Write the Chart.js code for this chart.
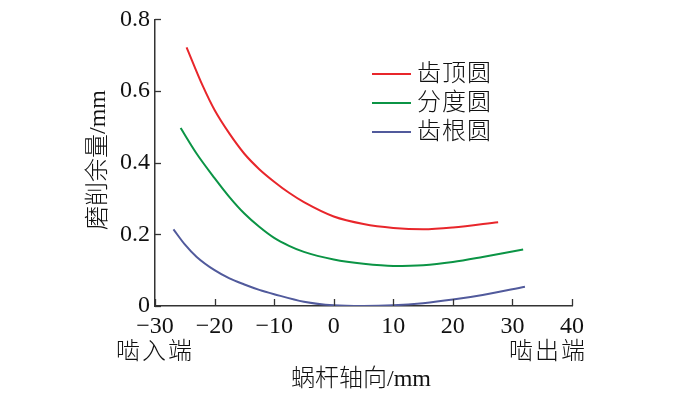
<!DOCTYPE html>
<html>
<head>
<meta charset="utf-8">
<script src="https://cdn.jsdelivr.net/npm/chart.js@4"></script>
<style>
html,body{margin:0;padding:0;background:#fff;}
#wrap{width:700px;height:396px;position:relative;}
</style>
</head>
<body>
<div id="wrap"><canvas id="c" width="700" height="396"></canvas></div>
<script>
// ---- data ----
const seriesNames = ["齿顶圆", "分度圆", "齿根圆"];
const redX   = [-24.7, -22, -20, -17.5, -15, -12.5, -10, -7.5, -5, 0, 5, 10, 15, 20, 27.6];
const redY   = [0.722, 0.615, 0.547, 0.481, 0.425, 0.382, 0.347, 0.316, 0.290, 0.250, 0.229, 0.218, 0.214, 0.219, 0.234];
const greenX = [-25.7, -23, -20, -17.5, -15, -12.5, -10, -7.5, -5, 0, 5, 10, 15, 20, 25, 31.8];
const greenY = [0.497, 0.425, 0.357, 0.304, 0.258, 0.221, 0.190, 0.168, 0.151, 0.130, 0.118, 0.112, 0.114, 0.123, 0.137, 0.158];
const blueX  = [-26.9, -25, -23, -20, -17.5, -15, -12.5, -10, -5, 0, 5, 10, 15, 20, 25, 32.1];
const blueY  = [0.214, 0.172, 0.137, 0.100, 0.077, 0.060, 0.045, 0.033, 0.012, 0.002, 0.000, 0.002, 0.008, 0.018, 0.031, 0.054];
const xTicks = [-30, -20, -10, 0, 10, 20, 30, 40];
const yTicks = [0, 0.2, 0.4, 0.6, 0.8];
const xTitle = "蜗杆轴向/mm";
const yTitle = "磨削余量/mm";
const leftEndLabel = "啮入端";
const rightEndLabel = "啮出端";

const colors = ["#e8262b", "#0b9445", "#515a9c"];
const FONT = '"Liberation Serif", "Noto Sans CJK SC", serif';

function pts(xs, ys){ return xs.map((x,i)=>({x:x, y:ys[i]})); }

const decor = {
  id: 'decor',
  afterDraw(chart){
    const ctx = chart.ctx;
    const xs = chart.scales.x, ys = chart.scales.y;
    const area = chart.chartArea;
    ctx.save();
    // inward ticks
    ctx.strokeStyle = '#333';
    ctx.lineWidth = 1.3;
    xTicks.forEach(v=>{
      const px = Math.round(xs.getPixelForValue(v))+0.5;
      ctx.beginPath(); ctx.moveTo(px, area.bottom); ctx.lineTo(px, area.bottom-7); ctx.stroke();
    });
    yTicks.forEach(v=>{
      const py = Math.round(ys.getPixelForValue(v))+0.5;
      ctx.beginPath(); ctx.moveTo(area.left, py); ctx.lineTo(area.left+6, py); ctx.stroke();
    });
    // legend
    ctx.font = '300 24px ' + FONT;
    ctx.textBaseline = 'middle';
    ctx.textAlign = 'left';
    try { ctx.letterSpacing = '1px'; } catch(e) {}
    const rows = [74, 103, 132];
    seriesNames.forEach((n,i)=>{
      ctx.strokeStyle = colors[i];
      ctx.lineWidth = 2;
      ctx.beginPath(); ctx.moveTo(372, rows[i]); ctx.lineTo(411, rows[i]); ctx.stroke();
      ctx.fillStyle = '#111';
      ctx.fillText(n, 417, rows[i]+1);
    });
    // end labels
    ctx.fillStyle = '#111';
    try { ctx.letterSpacing = '2px'; } catch(e) {}
    ctx.fillText(leftEndLabel, 116, 353);
    ctx.fillText(rightEndLabel, 509, 353);
    // axis titles
    try { ctx.letterSpacing = '0px'; } catch(e) {}
    ctx.textAlign = 'center';
    ctx.fillText(xTitle, 361, 380);
    ctx.save();
    ctx.translate(99, 160);
    ctx.rotate(-Math.PI/2);
    ctx.fillText(yTitle, 0, 0);
    ctx.restore();
    ctx.restore();
  }
};

new Chart(document.getElementById('c'), {
  type: 'line',
  data: {
    datasets: [
      {label: seriesNames[0], data: pts(redX, redY), borderColor: colors[0]},
      {label: seriesNames[1], data: pts(greenX, greenY), borderColor: colors[1]},
      {label: seriesNames[2], data: pts(blueX, blueY), borderColor: colors[2]}
    ].map(d=>Object.assign(d, {borderWidth: 2, pointRadius: 0, cubicInterpolationMode: 'monotone', fill: false}))
  },
  options: {
    responsive: false,
    animation: false,
    devicePixelRatio: 1,
    layout: {padding: {left: 0, right: 128, top: 19, bottom: 0}},
    plugins: {legend: {display: false}, tooltip: {enabled: false}},
    scales: {
      x: {
        type: 'linear', min: -30, max: 40,
        afterBuildTicks: s => { s.ticks = xTicks.map(v=>({value:v})); },
        afterFit: s => { s.height = 90; },
        border: {display: true, color: '#333', width: 1.5},
        grid: {display: false, drawTicks: false},
        ticks: {
          color: '#111', padding: 6, maxRotation: 0,
          font: {family: FONT, size: 24},
          callback: v => String(v).replace('-', '\u2212')
        }
      },
      y: {
        type: 'linear', min: 0, max: 0.8,
        afterBuildTicks: s => { s.ticks = yTicks.map(v=>({value:v})); },
        afterFit: s => { s.width = 155; },
        border: {display: true, color: '#333', width: 1.5},
        grid: {display: false, drawTicks: false},
        ticks: {
          color: '#111', padding: 5,
          font: {family: FONT, size: 24},
          callback: v => (v === 0 ? '0' : v.toFixed(1))
        }
      }
    }
  },
  plugins: [decor]
});
</script>
</body>
</html>
